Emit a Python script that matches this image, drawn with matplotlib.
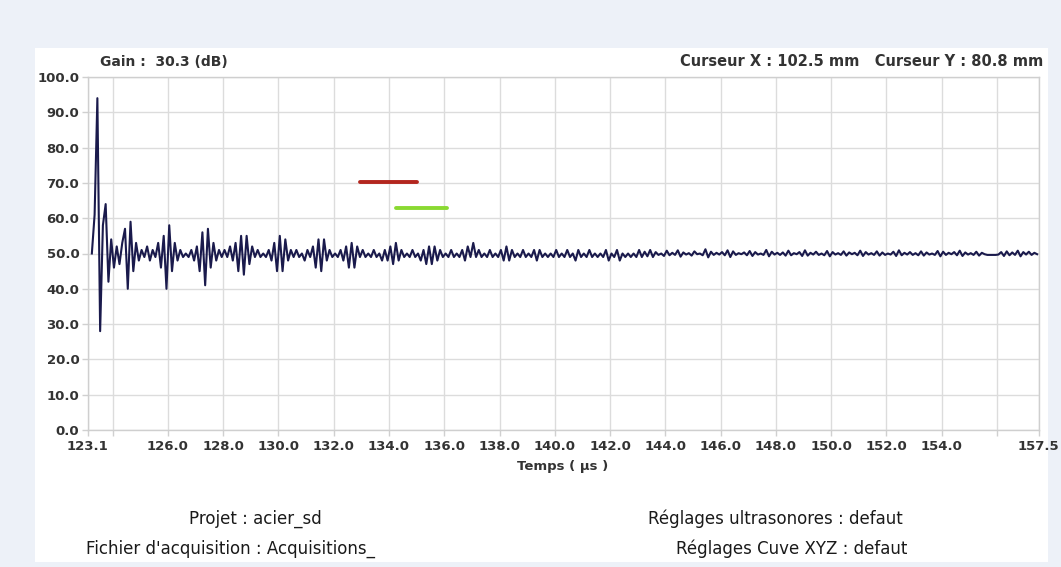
import numpy as np
import matplotlib.pyplot as plt
from matplotlib.patches import Rectangle

# A-scan samples (amplitude %), one every 0.1 us starting at 123.25 us
t_start = 123.25
t_step = 0.1
amplitude = [
    50, 61, 94, 28, 58, 64, 42, 54, 46, 52,
    47, 53, 57, 40, 59, 45, 53, 48, 51, 49,
    52, 48, 51, 49, 53, 46, 55, 40, 58, 45,
    53, 48, 51, 49, 50, 49, 51, 48, 52, 45,
    56, 41, 57, 46, 53, 48, 51, 49, 51, 49,
    52, 48, 53, 45, 55, 44, 55, 47, 52, 49,
    51, 49, 50, 49, 51, 48, 53, 45, 55, 45,
    54, 48, 51, 49, 51, 49, 50, 48, 51, 49,
    52, 46, 54, 45, 54, 48, 51, 49, 50, 49,
    51, 48, 52, 46, 53, 46, 52, 49, 51, 49,
    50, 49, 51, 49, 50, 48, 51, 48, 52, 47,
    53, 48, 51, 49, 50, 49, 51, 49, 50, 48,
    51, 47, 52, 47, 52, 48, 51, 49, 50, 49,
    51, 49, 50, 49, 51, 48, 52, 49, 53, 49,
    51, 49, 50, 49, 51, 49, 50, 49, 51, 48,
    52, 48, 51, 49, 50, 49, 51, 49, 50, 49,
    51, 48, 51, 49, 50, 49, 50, 49, 51, 49,
    50, 49, 51, 49, 50, 48, 51, 49, 50, 49,
    51, 49, 50, 49, 50, 49, 51, 48, 50, 49,
    51, 48, 50, 49, 50, 49, 50, 49, 51, 49,
    50.5, 49.2, 51.0, 49.0, 50.4, 49.6, 50.0, 49.3, 50.8, 49.5,
    50.2, 49.6, 50.9, 49.1, 50.3, 49.7, 50.1, 49.4, 50.6, 49.8,
    50.0, 49.5, 51.2, 48.9, 50.5, 49.6, 50.2, 49.7, 50.4, 49.5,
    50.9, 49.0, 50.6, 49.6, 50.1, 49.8, 50.3, 49.5, 50.7, 49.3,
    50.4, 49.7, 50.0, 49.6, 51.0, 49.2, 50.5, 49.7, 50.2, 49.6,
    50.3, 49.4, 50.8, 49.5, 50.1, 49.8, 50.4, 49.3, 50.9, 49.4,
    50.2, 49.7, 50.5, 49.6, 50.0, 49.5, 50.7, 49.2, 50.4, 49.7,
    50.1, 49.6, 50.6, 49.4, 50.3, 49.8, 50.2, 49.5, 50.8, 49.3,
    50.4, 49.7, 50.1, 49.6, 50.6, 49.4, 50.3, 49.6, 50.0, 49.7,
    50.5, 49.3, 50.9, 49.5, 50.2, 49.7, 50.4, 49.6, 50.1, 49.5,
    50.6, 49.4, 50.3, 49.7, 50.0, 49.6, 50.7, 49.2, 50.5, 49.6,
    50.2, 49.8, 50.4, 49.5, 50.8, 49.3, 50.3, 49.7, 50.1, 49.6,
    50.5, 49.4, 50.2, 49.8, 49.6, 49.6, 49.6, 49.6, 49.7, 50.4,
    49.3, 50.6, 49.5, 50.3, 49.6, 50.8, 49.2, 50.4, 49.7, 50.5,
    49.6, 50.2, 49.8,
]

# gates (start, end, level)
gate_red = (132.95, 135.0, 70.2)
gate_green = (134.25, 136.1, 63.0)

x_ticks = [123.1, 124, 126, 128, 130, 132, 134, 136, 138, 140, 142,
           144, 146, 148, 150, 152, 154, 156, 157.5]
x_labels = ['123.1', '', '126.0', '128.0', '130.0', '132.0', '134.0', '136.0',
            '138.0', '140.0', '142.0', '144.0', '146.0', '148.0', '150.0',
            '152.0', '154.0', '', '157.5']
y_ticks = [0, 10, 20, 30, 40, 50, 60, 70, 80, 90, 100]
y_labels = ['%.1f' % v for v in y_ticks]

gain_text = 'Gain :  30.3 (dB)'
cursor_text = 'Curseur X : 102.5 mm   Curseur Y : 80.8 mm'
info_texts = [
    ('Projet : acier_sd', 255, 519),
    ("Fichier d'acquisition : Acquisitions_", 231, 549),
    ('Réglages ultrasonores : defaut', 775, 519),
    ('Réglages Cuve XYZ : defaut', 792, 549),
]

W, H = 1061, 567
txt_col = '#333333'

fig = plt.figure(figsize=(W / 100, H / 100), dpi=100, facecolor='#edf1f8')
fig.patches.append(Rectangle((35 / W, 1 - 562 / H), (1048 - 35) / W, (562 - 48) / H,
                             transform=fig.transFigure, facecolor='white',
                             edgecolor='none', zorder=-5))

ax = fig.add_axes([87.7 / W, 1 - 430 / H, (1038.5 - 87.7) / W, (430 - 77) / H])
ax.set_facecolor('white')

t = t_start + t_step * np.arange(len(amplitude))
ax.plot(t, amplitude, color='#1a1a4c', lw=1.5, zorder=3)

ax.plot(gate_red[:2], [gate_red[2]] * 2, color='#b3261e', lw=2.8,
        solid_capstyle='round', zorder=4)
ax.plot(gate_green[:2], [gate_green[2]] * 2, color='#8ad932', lw=2.8,
        solid_capstyle='round', zorder=4)

ax.set_xlim(123.1, 157.5)
ax.set_ylim(0, 100)
ax.set_xticks(x_ticks)
ax.set_xticklabels(x_labels)
ax.set_yticks(y_ticks)
ax.set_yticklabels(y_labels)
ax.grid(True, color='#dcdcdc', lw=1.0)
ax.set_axisbelow(True)
for s in ax.spines.values():
    s.set_color('#cfcfcf')
    s.set_linewidth(1.0)
ax.tick_params(axis='both', colors='#d0d0d0', length=4, width=1.0,
               labelcolor=txt_col, labelsize=9.5)
ax.tick_params(axis='x', pad=3)
ax.tick_params(axis='y', pad=2)
for lab in ax.get_xticklabels() + ax.get_yticklabels():
    lab.set_fontweight('bold')

ax.set_xlabel('Temps ( µs )', fontsize=9.5, fontweight='bold', color=txt_col, labelpad=5)

fig.text(100 / W, 1 - 62 / H, gain_text, ha='left', va='center',
         fontsize=10, fontweight='bold', color=txt_col)
fig.text(1043 / W, 1 - 62 / H, cursor_text, ha='right', va='center',
         fontsize=10.5, fontweight='bold', color=txt_col)
for s, x, y in info_texts:
    fig.text(x / W, 1 - y / H, s, ha='center', va='center', fontsize=12,
             color='#1a1a1a')

fig.savefig('out.png', dpi=100, facecolor=fig.get_facecolor())
